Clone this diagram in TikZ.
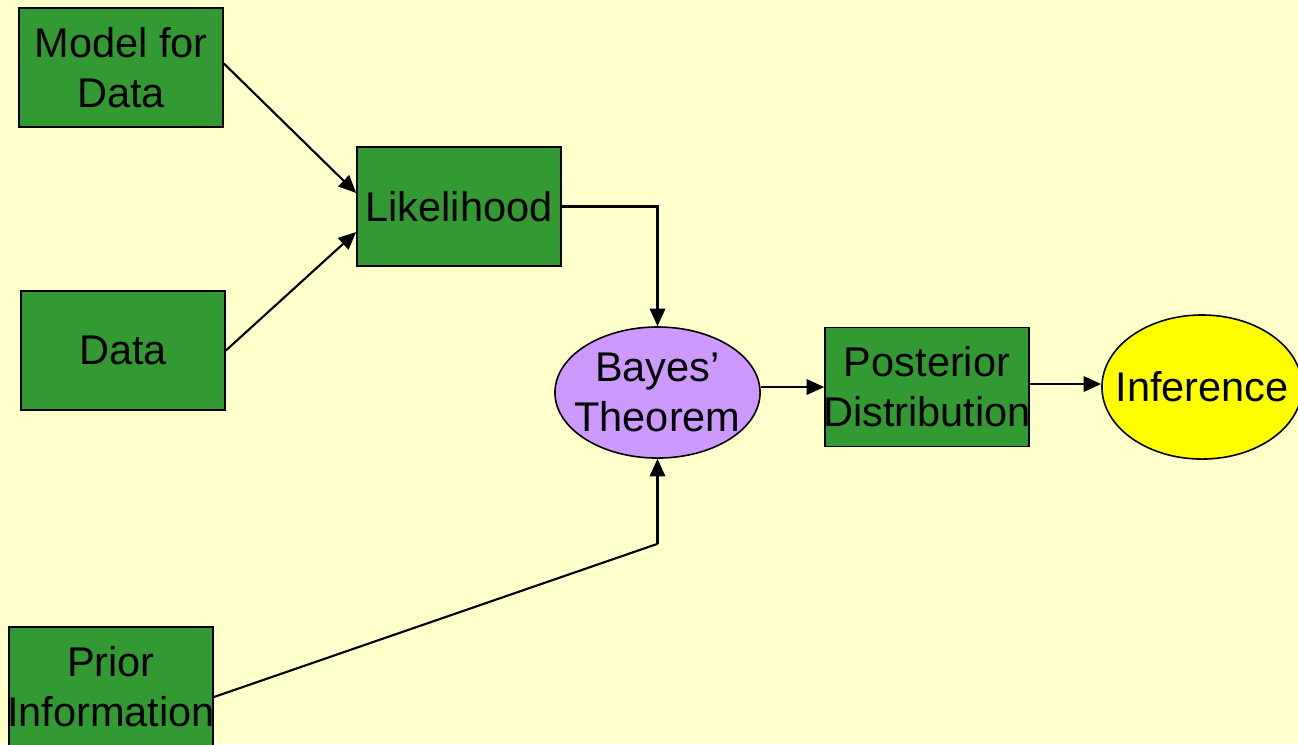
\documentclass[tikz,border=0pt]{standalone}
\usepackage{fontspec}
\setmainfont{Liberation Sans}
\usetikzlibrary{shapes.geometric,arrows.meta,calc}
\definecolor{bgyellow}{HTML}{FFFFCC}
\definecolor{boxgreen}{HTML}{339933}
\definecolor{bayespurple}{HTML}{CC99FF}
\definecolor{infyellow}{HTML}{FFFF00}
\tikzset{
  labelfont/.style={font=\fontsize{0.415cm}{0.50cm}\selectfont},
  stagebox/.style={draw=black, line width=0.45pt, fill=boxgreen,
    minimum width=2.04cm, minimum height=1.19cm, inner ysep=0pt,
    inner xsep=-0.03cm, align=center, labelfont},
  ovalnode/.style={ellipse, draw=black, line width=0.45pt, inner sep=0pt},
  ovaltext/.style={align=center, inner sep=0pt, labelfont},
  flow/.style={line width=0.6pt, -{Triangle[length=5pt,width=4.4pt]}},
  plainline/.style={line width=0.6pt}
}
\begin{document}
\begin{tikzpicture}[x=0.01cm,y=-0.01cm]
  \useasboundingbox (0,0) rectangle (1298,744);
  \clip (0,0) rectangle (1298,744);
  \fill[bgyellow] (0,0) rectangle (1298,744);

  % stages of the analysis
  \node[stagebox] (model) at (121,67.5) {Model for\\Data};
  \node[stagebox] (data) at (123,350.5) {Data};
  \node[stagebox] (lik) at (459,206.5) {Likelihood};
  \node[stagebox] (prior) at (111,686.5) {Prior\\Information};
  \node[stagebox] (post) at (927,387) {Posterior\\Distribution};

  % oval stages: fixed outline, text set on top
  \node[ovalnode, fill=bayespurple, minimum width=2.05cm, minimum height=1.31cm]
    (bayes) at (657.5,392.5) {};
  \node[ovaltext] (bayestext) at (bayes.center) {Bayes’\\Theorem};
  \node[ovalnode, fill=infyellow, minimum width=2.0cm, minimum height=1.44cm]
    (inf) at (1202,387) {};
  \node[ovaltext] (inftext) at (inf.center) {Inference};

  % connections
  \draw[flow] ([yshift=0.04cm]model.east) -- ([yshift=0.135cm]lik.west);
  \draw[flow] (data.east) -- ([yshift=-0.255cm]lik.west);
  \draw[flow] (lik.east) -| (bayes.north);
  \coordinate (bend) at ($(bayes.south)+(0,85)$);
  \draw[plainline] ([yshift=-0.105cm]prior.east) -- (bend);
  \draw[flow] (bend) -- (bayes.south);
  \draw[flow] (bayes.east |- post.west) -- (post.west);
  \draw[flow] ([yshift=0.03cm]post.east) -- ([yshift=0.03cm]post.east -| inf.west);
\end{tikzpicture}
\end{document}
